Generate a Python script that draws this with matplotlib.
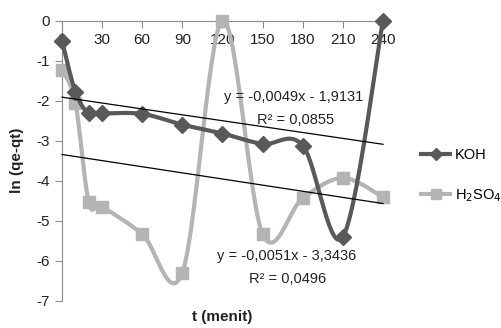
import numpy as np
import matplotlib
matplotlib.use("Agg")
import matplotlib.pyplot as plt
from matplotlib.lines import Line2D

plt.rcParams['font.family'] = ['Liberation Sans', 'DejaVu Sans']

t = [0, 10, 20, 30, 60, 90, 120, 150, 180, 210, 240]
koh = [-0.50, -1.78, -2.32, -2.32, -2.33, -2.60, -2.82, -3.08, -3.12, -5.40, 0.0]
h2so4 = [-1.23, -2.05, -4.53, -4.65, -5.33, -6.29, 0.0, -5.33, -4.43, -3.93, -4.41]

koh_slope, koh_icpt = -0.0049, -1.9131
h2_slope, h2_icpt = -0.0051, -3.3436
koh_eq = ["y = -0,0049x - 1,9131", "R² = 0,0855"]
h2_eq = ["y = -0,0051x - 3,3436", "R² = 0,0496"]

xticks = [0, 30, 60, 90, 120, 150, 180, 210, 240]
yticks = [0, -1, -2, -3, -4, -5, -6, -7]

C_KOH = '#595959'
C_H2 = '#b4b4b4'
AX = '#8c8c8c'
TXT = '#222222'


def smooth(x, y, n=40):
    x = np.asarray(x, float); y = np.asarray(y, float)
    P = np.column_stack([x, y])
    out = []
    for i in range(len(P) - 1):
        p0 = P[i - 1] if i > 0 else P[i]
        p1 = P[i]; p2 = P[i + 1]
        p3 = P[i + 2] if i + 2 < len(P) else P[i + 1]
        c1 = p1 + (p2 - p0) / 6.0
        c2 = p2 - (p3 - p1) / 6.0
        s = np.linspace(0, 1, n)[:, None]
        seg = (1 - s) ** 3 * p1 + 3 * (1 - s) ** 2 * s * c1 + 3 * (1 - s) * s ** 2 * c2 + s ** 3 * p2
        out.append(seg if i == 0 else seg[1:])
    a = np.vstack(out)
    return a[:, 0], a[:, 1]


W, H = 502, 328
fig = plt.figure(figsize=(W / 100, H / 100), dpi=100)
ax = fig.add_axes([62 / W, 1 - 301 / H, (383 - 62) / W, (301 - 20.5) / H])

ax.set_xlim(0, 240)
ax.set_ylim(-7, 0)

sx, sy = smooth(t, h2so4)
ax.plot(sx, sy, color=C_H2, lw=3, zorder=2, solid_capstyle='round')
ax.plot(t, h2so4, ls='none', marker='s', ms=9, color=C_H2, zorder=3)

sx, sy = smooth(t, koh)
ax.plot(sx, sy, color=C_KOH, lw=3, zorder=4, solid_capstyle='round')
ax.plot(t, koh, ls='none', marker='D', ms=8, color=C_KOH, zorder=5)

xx = np.array([0, 240])
ax.plot(xx, koh_slope * xx + koh_icpt, color='black', lw=0.9, zorder=6)
ax.plot(xx, h2_slope * xx + h2_icpt, color='black', lw=0.9, zorder=6)

fs = 10.5


def ftext(px, py, s, **kw):
    fig.text(px / W, 1 - py / H, s, ha='center', va='center', fontsize=fs, color=TXT, zorder=7, **kw)


ftext(294, 97, koh_eq[0])
ftext(296, 120, koh_eq[1])
ftext(287, 256, h2_eq[0])
ftext(288, 279, h2_eq[1])

for s in ['top', 'right']:
    ax.spines[s].set_visible(False)
ax.spines['bottom'].set_position(('data', 0))
ax.spines['bottom'].set_color(AX)
ax.spines['left'].set_color(AX)
ax.set_xticks(xticks)
ax.set_yticks(yticks)
ax.set_xticklabels([str(v) for v in xticks])
ax.set_yticklabels([str(v) for v in yticks])
ax.tick_params(axis='both', direction='out', length=5, color=AX, labelsize=11, labelcolor=TXT)
ax.tick_params(axis='x', pad=4)
for ln in ax.lines:
    ln.set_clip_on(False)

fig.text(222 / W, 1 - 317 / H, 't (menit)', ha='center', va='center', fontsize=11, fontweight='bold', color=TXT)
fig.text(17 / W, 1 - 160 / H, 'ln (qe-qt)', ha='center', va='center', rotation=90, fontsize=11, fontweight='bold', color=TXT)

handles = [Line2D([], [], color=C_KOH, lw=3, marker='D', ms=6),
           Line2D([], [], color=C_H2, lw=3, marker='s', ms=7)]
fig.legend(handles, ['KOH', 'H$_2$SO$_4$'], loc='center left', bbox_to_anchor=(408 / W, 1 - 176 / H),
           frameon=False, fontsize=10.5, handlelength=2.0, labelspacing=1.7, handletextpad=0.3)

fig.savefig('out.png', dpi=100)
